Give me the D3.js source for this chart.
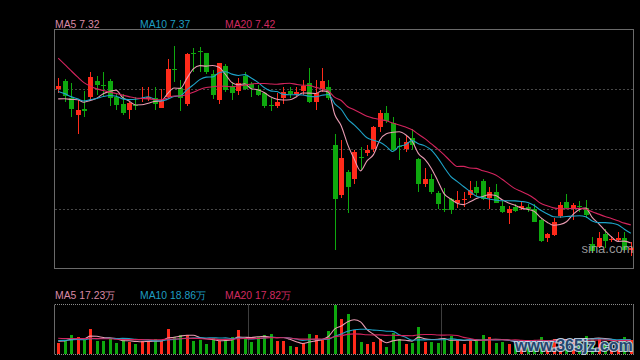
<!DOCTYPE html>
<html><head><meta charset="utf-8">
<script src="https://cdn.jsdelivr.net/npm/d3@7"></script>
<style>html,body{margin:0;padding:0;background:#000;}svg{display:block}</style>
</head><body><svg id="c" width="640" height="360"></svg>
<script>
// ---- data (price in yuan, volume in 万) ----
const opens=[8.192,8.238,8.143,8.045,8.075,8.145,8.238,8.213,8.238,8.145,8.105,8.073,8.103,8.132,8.137,8.139,8.083,8.145,8.307,8.196,
8.107,8.396,8.406,8.394,8.275,8.130,8.324,8.211,8.181,8.268,8.219,8.190,8.168,8.103,8.096,8.143,8.181,8.162,8.181,8.224,
8.117,8.192,8.200,7.875,7.586,7.720,7.680,7.805,7.828,7.852,7.975,8.054,7.998,7.869,7.852,7.913,7.794,7.648,7.682,7.597,
7.510,7.563,7.544,7.561,7.586,7.633,7.667,7.573,7.607,7.525,7.488,7.520,7.512,7.520,7.507,7.444,7.342,7.361,7.469,7.550,
7.512,7.524,7.516,7.308,7.293,7.369,7.335,7.331,7.346,7.276];
const highs=[8.253,8.249,8.224,8.130,8.181,8.287,8.266,8.287,8.249,8.162,8.162,8.117,8.145,8.200,8.200,8.200,8.190,8.360,8.436,8.243,
8.394,8.426,8.432,8.398,8.300,8.341,8.332,8.234,8.256,8.287,8.234,8.215,8.177,8.143,8.168,8.200,8.200,8.202,8.243,8.309,
8.243,8.309,8.243,7.935,7.903,7.733,7.847,7.862,7.875,7.979,8.073,8.096,8.030,7.913,7.928,7.966,7.799,7.743,7.709,7.610,
7.626,7.569,7.610,7.605,7.667,7.667,7.680,7.633,7.648,7.554,7.525,7.535,7.554,7.539,7.535,7.459,7.371,7.459,7.550,7.595,
7.544,7.554,7.559,7.350,7.380,7.393,7.355,7.380,7.380,7.318];
const lows=[8.168,8.120,8.032,7.935,8.032,8.130,8.158,8.149,8.096,8.073,8.041,8.022,8.073,8.120,8.124,8.073,8.083,8.136,8.234,8.064,
8.096,8.290,8.290,8.277,8.136,8.105,8.177,8.126,8.158,8.187,8.145,8.154,8.083,8.064,8.083,8.105,8.139,8.149,8.158,8.111,
8.073,8.177,8.130,7.274,7.573,7.488,7.652,7.728,7.809,7.833,7.947,7.998,7.837,7.786,7.831,7.847,7.605,7.635,7.595,7.510,
7.491,7.478,7.516,7.522,7.573,7.582,7.559,7.510,7.541,7.488,7.425,7.491,7.503,7.491,7.435,7.318,7.318,7.355,7.456,7.507,
7.444,7.493,7.459,7.261,7.289,7.289,7.323,7.318,7.267,7.242];
const closes=[8.207,8.154,8.079,8.073,8.069,8.258,8.215,8.209,8.139,8.102,8.054,8.111,8.098,8.143,8.147,8.107,8.124,8.304,8.302,8.139,
8.391,8.391,8.400,8.287,8.158,8.338,8.187,8.168,8.224,8.190,8.196,8.158,8.092,8.098,8.120,8.177,8.164,8.173,8.209,8.117,
8.168,8.238,8.139,7.563,7.799,7.635,7.833,7.799,7.847,7.975,8.054,8.007,7.843,7.862,7.890,7.875,7.648,7.677,7.607,7.535,
7.505,7.503,7.558,7.567,7.614,7.597,7.563,7.607,7.544,7.493,7.507,7.497,7.525,7.510,7.437,7.327,7.369,7.437,7.531,7.516,
7.529,7.518,7.474,7.267,7.342,7.327,7.340,7.346,7.274,7.289];
const volumes=[15.0,18.3,24.6,22.1,18.3,32.1,17.1,17.1,19.6,14.6,18.3,16.3,13.8,17.1,17.1,19.6,17.1,32.1,22.1,24.6,
24.6,17.1,18.3,13.8,20.4,17.1,18.3,22.1,30.8,19.6,16.3,22.1,24.6,25.8,17.1,17.1,10.8,9.6,14.6,25.8,
24.6,18.3,29.6,62.1,44.6,51.3,30.8,15.8,13.3,15.8,19.6,9.6,27.1,19.6,13.3,14.6,34.6,15.8,15.8,14.6,
19.6,23.3,17.1,13.3,17.1,17.1,24.6,22.1,14.6,15.8,13.3,13.3,15.0,14.0,18.0,22.1,16.0,19.0,20.0,17.1,
19.5,19.0,23.3,20.5,20.15,17.0,14.0,15.0,22.1,18.05];
// closes / volumes just before the visible window (estimated from where the MA lines start)
const priorCloses=[8.86,8.81,8.78,8.72,8.66,8.52,8.40,8.31,8.27,8.24,8.28,8.25,8.20,8.19,8.18,8.15,8.10,8.08,8.14];
const priorVolumes=[24,22,26,20,23,25,21,19,28,22,17,19,16,22,18,17,15,19,18];
const maPeriods=[5,10,20];
const maNames=["MA5","MA10","MA20"];
const priceDomain=[7.17,8.53];
const dividers=[30,60];

// ---- styles ----
const RED="#ff2a1a", GREEN="#0ea80e";
const maColors=["#e99bb2","#1ea3c8","#d4245e"];
const maText=["#d98aa5","#1e9ec2","#d02a60"];
const font="Liberation Sans, Arial, sans-serif";

const svg=d3.select("#c");
svg.append("rect").attr("width",640).attr("height",360).attr("fill","#000");

const L=55,R=634,PT=29.5,PB=268.5,VT=304.5,VB=354.5;
const idx=d3.range(closes.length);
const x=d3.scaleBand().domain(idx).range([L,R]).padding(0);
const cx=i=>x(i)+x.bandwidth()/2;
const y=d3.scaleLinear().domain(priceDomain).range([PB,PT]);
const yv=d3.scaleLinear().domain([0,d3.max(volumes)]).range([VB,VT+0.5]);

function ma(series,prior,n){
  const all=prior.concat(series);
  return series.map((_,i)=>{const j=i+prior.length;let s=0;for(let k=j-n+1;k<=j;k++)s+=all[k];return s/n;});
}
const priceMA=maPeriods.map(n=>ma(closes,priorCloses,n));
const volMA=maPeriods.map(n=>ma(volumes,priorVolumes,n));

// clip
const defs=svg.append("defs");
defs.append("clipPath").attr("id","pc").append("rect").attr("x",L).attr("y",PT).attr("width",R-L).attr("height",PB-PT);
defs.append("clipPath").attr("id","vc").append("rect").attr("x",L).attr("y",VT).attr("width",R-L).attr("height",VB-VT);

// price gridlines
const gy=d3.range(1,4).map(k=>PT+(PB-PT)*k/4);
svg.append("g").selectAll("line").data(gy).join("line")
  .attr("x1",L).attr("x2",R).attr("y1",d=>Math.round(d)+0.5).attr("y2",d=>Math.round(d)+0.5)
  .attr("stroke","#474747").attr("stroke-dasharray","2,2");

// price border
svg.append("rect").attr("x",L-0.5).attr("y",PT).attr("width",R-L).attr("height",PB-PT)
  .attr("fill","none").attr("stroke","#6a6a6a");

// candles
const cg=svg.append("g").attr("clip-path","url(#pc)").attr("shape-rendering","crispEdges");
const bw=5;
const col=i=>closes[i]>=opens[i]?RED:GREEN;
cg.selectAll("line.w").data(idx).join("line").attr("class","w")
  .attr("x1",i=>Math.round(cx(i))+0.5).attr("x2",i=>Math.round(cx(i))+0.5)
  .attr("y1",i=>y(highs[i])).attr("y2",i=>y(lows[i])).attr("stroke",col).attr("stroke-width",1);
cg.selectAll("rect.b").data(idx).join("rect").attr("class","b")
  .attr("x",i=>Math.round(cx(i))-2).attr("width",bw)
  .attr("y",i=>y(Math.max(opens[i],closes[i])))
  .attr("height",i=>Math.max(1,Math.abs(y(opens[i])-y(closes[i]))))
  .attr("fill",col);

// price MA lines
const line=d3.line().x((d,i)=>cx(i)).y(d=>y(d)).curve(d3.curveMonotoneX);
const mg=svg.append("g").attr("clip-path","url(#pc)");
priceMA.forEach((s,k)=>mg.append("path").attr("d",line(s)).attr("fill","none").attr("stroke",maColors[k]).attr("stroke-width",1.1));

// price legend
const lx=[55,140,225];
maNames.forEach((n,k)=>svg.append("text").attr("x",lx[k]).attr("y",27.5)
  .attr("font-family",font).attr("font-size",10.4).attr("fill",maText[k])
  .text(n+" "+priceMA[k][priceMA[k].length-1].toFixed(2)));

// sina watermark
svg.append("text").attr("x",581.5).attr("y",253).attr("font-family",font).attr("font-size",13)
  .attr("fill","#b4b4b4").attr("fill-opacity",0.85).text("sina.com");

// volume panel frame
svg.append("line").attr("x1",L).attr("x2",R).attr("y1",VT).attr("y2",VT).attr("stroke","#8a8a8a").attr("stroke-dasharray","1,1");
svg.append("line").attr("x1",L).attr("x2",R).attr("y1",VB).attr("y2",VB).attr("stroke","#8a8a8a").attr("stroke-dasharray","1,1");
svg.append("line").attr("x1",L-0.5).attr("x2",L-0.5).attr("y1",VT).attr("y2",VB).attr("stroke","#6a6a6a");
svg.append("line").attr("x1",R-0.5).attr("x2",R-0.5).attr("y1",VT).attr("y2",VB).attr("stroke","#6a6a6a");
svg.append("g").selectAll("line").data(dividers).join("line")
  .attr("x1",d=>Math.round(x(d))+0.5).attr("x2",d=>Math.round(x(d))+0.5)
  .attr("y1",VT).attr("y2",VB).attr("stroke","#7a7a7a").attr("stroke-dasharray","1,1");

// volume bars
svg.append("g").attr("shape-rendering","crispEdges").selectAll("rect").data(idx).join("rect")
  .attr("x",i=>Math.round(cx(i))-1).attr("width",3)
  .attr("y",i=>yv(volumes[i])).attr("height",i=>VB-0.5-yv(volumes[i]))
  .attr("fill",col);

// volume MA lines
const vline=d3.line().x((d,i)=>cx(i)).y(d=>yv(d)).curve(d3.curveMonotoneX);
const vg=svg.append("g").attr("clip-path","url(#vc)");
volMA.forEach((s,k)=>vg.append("path").attr("d",vline(s)).attr("fill","none").attr("stroke",maColors[k]).attr("stroke-width",1.1));

// volume legend
maNames.forEach((n,k)=>svg.append("text").attr("x",lx[k]).attr("y",299)
  .attr("font-family",font).attr("font-size",10.4).attr("fill",maText[k])
  .text(n+" "+volMA[k][volMA[k].length-1].toFixed(2)+"万"));

// site watermark
svg.append("text").attr("x",515).attr("y",351).attr("font-family",font).attr("font-size",16).attr("font-weight","bold")
  .attr("fill","#24466e").attr("stroke","#cfe2f5").attr("stroke-width",2.2).attr("paint-order","stroke")
  .attr("stroke-opacity",0.85).text("www.365jz.com");
</script></body></html>
